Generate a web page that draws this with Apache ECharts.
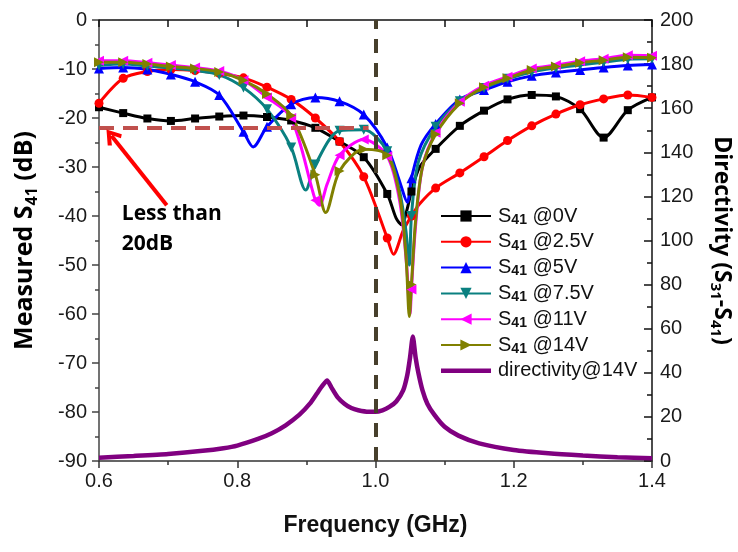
<!DOCTYPE html>
<html>
<head>
<meta charset="utf-8">
<script src="https://cdn.jsdelivr.net/npm/echarts@6/dist/echarts.min.js"></script>
<style>
  html, body { margin: 0; padding: 0; background: #fff; }
  #chart { width: 738px; height: 552px; }
</style>
</head>
<body>
<div id="chart"></div>
<script>
// Frequencies (GHz) where the measurement markers sit
const markFreq = [0.600, 0.635, 0.670, 0.704, 0.739, 0.774, 0.809, 0.843, 0.878, 0.913, 0.948, 0.983,
                  1.017, 1.052, 1.087, 1.122, 1.157, 1.191, 1.226, 1.261, 1.296, 1.330, 1.365, 1.400];

// Measured S41 (dB) vs frequency (GHz) for each bias voltage
const s41_0V = [[0.600,-17.8],[0.635,-19.0],[0.670,-20.1],[0.704,-20.6],[0.739,-20.1],[0.774,-19.7],[0.809,-19.5],
  [0.843,-19.8],[0.878,-20.5],[0.913,-22.0],[0.948,-24.8],[0.983,-28.0],[1.017,-35.5],[1.030,-40.5],[1.038,-41.8],
  [1.045,-39.0],[1.052,-35.0],[1.064,-30.0],[1.087,-26.3],[1.122,-21.6],[1.157,-18.5],[1.191,-16.2],[1.226,-15.3],
  [1.261,-15.6],[1.296,-18.2],[1.330,-24.0],[1.365,-18.4],[1.400,-15.8]];
const s41_2p5V = [[0.600,-17.0],[0.635,-11.9],[0.670,-10.5],[0.704,-10.1],[0.739,-10.3],[0.774,-10.9],[0.809,-11.8],
  [0.843,-13.7],[0.878,-16.2],[0.913,-20.0],[0.948,-24.8],[0.983,-32.0],[1.017,-44.5],[1.026,-47.8],[1.040,-43.0],
  [1.052,-40.0],[1.064,-37.5],[1.087,-34.3],[1.122,-31.2],[1.157,-27.9],[1.191,-24.6],[1.226,-21.6],[1.261,-19.2],
  [1.296,-17.3],[1.330,-16.1],[1.365,-15.3],[1.400,-15.8]];
const s41_5V = [[0.600,-9.9],[0.635,-9.7],[0.670,-10.1],[0.704,-11.1],[0.739,-12.6],[0.774,-15.3],[0.809,-22.8],
  [0.823,-25.9],[0.843,-21.8],[0.878,-17.2],[0.913,-15.8],[0.948,-16.6],[0.983,-19.3],[1.017,-26.0],[1.035,-33.0],
  [1.046,-37.2],[1.052,-32.3],[1.066,-25.5],[1.087,-21.2],[1.122,-16.2],[1.157,-14.3],[1.191,-12.6],[1.226,-11.4],
  [1.261,-10.7],[1.296,-10.2],[1.330,-9.7],[1.365,-9.3],[1.400,-9.1]];
const s41_7p5V = [[0.600,-9.3],[0.635,-9.0],[0.670,-9.4],[0.704,-9.8],[0.739,-10.3],[0.774,-11.2],[0.809,-13.8],
  [0.843,-18.2],[0.878,-26.0],[0.899,-34.7],[0.913,-29.5],[0.948,-22.6],[0.983,-22.4],[1.017,-26.8],[1.035,-35.0],
  [1.044,-43.0],[1.049,-50.0],[1.052,-40.0],[1.062,-29.0],[1.087,-21.8],[1.122,-16.6],[1.157,-13.9],[1.191,-12.0],
  [1.226,-10.6],[1.261,-9.8],[1.296,-9.2],[1.330,-8.6],[1.365,-8.0],[1.400,-7.9]];
const s41_11V = [[0.600,-8.3],[0.635,-8.3],[0.670,-8.7],[0.704,-9.2],[0.739,-9.7],[0.774,-10.4],[0.809,-12.3],
  [0.843,-15.8],[0.878,-20.0],[0.913,-36.8],[0.919,-37.8],[0.930,-33.5],[0.948,-27.6],[0.983,-24.4],[1.017,-27.8],
  [1.035,-37.0],[1.045,-50.0],[1.050,-60.0],[1.052,-55.0],[1.058,-42.0],[1.068,-30.0],[1.087,-23.0],[1.122,-16.7],
  [1.157,-13.4],[1.191,-11.6],[1.226,-9.9],[1.261,-9.2],[1.296,-8.4],[1.330,-7.9],[1.365,-7.2],[1.400,-7.3]];
const s41_14V = [[0.600,-8.6],[0.635,-8.6],[0.670,-9.0],[0.704,-9.5],[0.739,-9.9],[0.774,-10.6],[0.809,-12.3],
  [0.843,-15.1],[0.878,-19.5],[0.913,-31.6],[0.928,-39.3],[0.948,-30.8],[0.983,-26.4],[1.017,-27.6],[1.035,-36.0],
  [1.044,-48.0],[1.049,-60.5],[1.052,-54.0],[1.058,-41.0],[1.068,-30.0],[1.087,-23.3],[1.122,-17.0],[1.157,-13.7],
  [1.191,-11.9],[1.226,-10.2],[1.261,-9.5],[1.296,-8.7],[1.330,-8.2],[1.365,-7.6],[1.400,-7.7]];

// Directivity (S31-S41) at 14 V, right axis
const directivity14V = [[0.600,1.5],[0.650,2.3],[0.700,3.2],[0.750,4.6],[0.780,5.8],[0.800,7.0],[0.830,10.0],
  [0.850,12.6],[0.870,16.2],[0.890,21.0],[0.905,26.0],[0.915,30.5],[0.924,34.5],[0.930,36.5],[0.936,33.5],
  [0.945,29.0],[0.955,26.0],[0.965,24.0],[0.975,23.0],[0.990,22.3],[1.000,22.3],[1.010,23.0],[1.020,24.5],
  [1.030,27.0],[1.040,32.0],[1.046,39.0],[1.050,47.0],[1.054,56.5],[1.058,47.0],[1.062,40.0],[1.068,32.0],
  [1.075,26.0],[1.085,21.0],[1.100,15.5],[1.120,11.5],[1.150,8.0],[1.200,5.0],[1.250,3.5],[1.300,2.5],
  [1.350,1.7],[1.400,1.2]];

// Reference lines and annotation
const targetLevel = -22;          // dB, dashed limit line
const targetSpan = [0.6, 0.99];   // GHz extent of the limit line
const centerFreq = 1.0;           // GHz, dashed vertical marker
const arrowFrom = [0.698, -37.8];
const arrowTo = [0.618, -23.6];
const noteAt = [0.633, -42.7];
const noteText = 'Less than\n20dB';

// Axis ranges
const xRange = [0.6, 1.4];
const yLeftRange = [-90, 0];
const yRightRange = [0, 200];

const TICK_FONT = 'Liberation Sans, Arial, sans-serif';
const TITLE_FONT = 'Open Sans, sans-serif';

function withMarkers(points) {
  return points.map(p => markFreq.some(m => Math.abs(m - p[0]) < 1e-6)
    ? { value: p }
    : { value: p, symbol: 'none' });
}

function s41Series(name, points, color, symbol, rotate, size) {
  return {
    name: name,
    type: 'line',
    xAxisIndex: 0,
    yAxisIndex: 0,
    data: withMarkers(points),
    smooth: 0.3,
    showAllSymbol: true,
    symbol: symbol,
    symbolRotate: rotate,
    symbolSize: size,
    lineStyle: { color: color, width: 3 },
    itemStyle: { color: color },
    emphasis: { disabled: true }
  };
}

const chart = echarts.init(document.getElementById('chart'), null, { renderer: 'canvas' });

const series = [
  s41Series('S41 @0V', s41_0V, '#000000', 'rect', 0, 8),
  s41Series('S41 @2.5V', s41_2p5V, '#ff0000', 'circle', 0, 9),
  s41Series('S41 @5V', s41_5V, '#0000ff', 'triangle', 0, 10),
  s41Series('S41 @7.5V', s41_7p5V, '#0a8080', 'triangle', 180, 10),
  s41Series('S41 @11V', s41_11V, '#ff00ff', 'triangle', 90, 10),
  s41Series('S41 @14V', s41_14V, '#808000', 'triangle', -90, 10),
  {
    name: 'directivity@14V',
    type: 'line',
    xAxisIndex: 0,
    yAxisIndex: 1,
    data: directivity14V,
    smooth: 0.2,
    symbol: 'none',
    lineStyle: { color: '#800080', width: 4.5 },
    itemStyle: { color: '#800080' },
    emphasis: { disabled: true }
  }
];

// Limit line, center-frequency line, arrow and note ride on the first series
series[0].markLine = {
  silent: true,
  animation: false,
  symbol: ['none', 'none'],
  label: { show: false },
  data: [
    [
      { coord: [centerFreq, yLeftRange[0]], lineStyle: { color: '#473f2c', width: 4, type: [14, 10] } },
      { coord: [centerFreq, yLeftRange[1]] }
    ],
    [
      { coord: [targetSpan[0], targetLevel], lineStyle: { color: '#c0504d', width: 4, type: [15, 9] } },
      { coord: [targetSpan[1], targetLevel] }
    ],
    [
      { coord: arrowFrom, lineStyle: { color: '#ff0000', width: 4, type: 'solid' } },
      { coord: arrowTo, symbol: 'path://M5,0 L10,8 L8.2,9.6 L5,4.2 L1.8,9.6 L0,8 Z', symbolSize: [18, 16] }
    ]
  ]
};
series[0].markPoint = {
  silent: true,
  animation: false,
  symbol: 'circle',
  symbolSize: 0,
  data: [{
    coord: noteAt,
    label: {
      show: true,
      position: 'right',
      distance: 0,
      formatter: noteText,
      fontFamily: 'Open Sans, sans-serif',
      fontWeight: 'bold',
      fontSize: 21,
      lineHeight: 30,
      color: '#000',
      align: 'left'
    }
  }]
};

const subRich = {
  s: { fontFamily: TICK_FONT, fontSize: 20, color: '#111', lineHeight: 22 },
  sub: { fontFamily: TICK_FONT, fontSize: 14, fontWeight: 'bold', color: '#111', verticalAlign: 'bottom', lineHeight: 16 }
};

const legendData = series.map(s => s.symbol === 'none'
  ? { name: s.name, icon: 'path://M0,0H50V4.5H0Z' }
  : { name: s.name });

const option = {
  animation: false,
  backgroundColor: '#ffffff',
  grid: { left: 99, right: 86, top: 20, bottom: 91, containLabel: false, outerBoundsMode: 'none' },
  legend: {
    orient: 'vertical',
    left: 435,
    top: 201,
    itemWidth: 50,
    itemHeight: 14,
    itemGap: 4.8,
    selectedMode: false,
    symbolKeepAspect: true,
    data: legendData,
    textStyle: { fontFamily: TICK_FONT, fontSize: 20, color: '#111', rich: subRich, padding: [0, 0, 0, 2] },
    formatter: name => name.startsWith('S41')
      ? '{s|S}{sub|41}{s|' + name.slice(3) + '}'
      : '{s|' + name + '}'
  },
  xAxis: [
    {
      type: 'value',
      min: xRange[0], max: xRange[1], interval: 0.2,
      position: 'bottom',
      name: 'Frequency (GHz)',
      nameLocation: 'middle',
      nameGap: 53,
      nameTextStyle: { fontFamily: TICK_FONT, fontWeight: 'bold', fontSize: 23, color: '#111' },
      axisLine: { show: true, onZero: false, lineStyle: { color: '#333', width: 1.5 } },
      axisTick: { show: true, inside: false, length: 7, lineStyle: { color: '#333', width: 1.5 } },
      minorTick: { show: true, splitNumber: 2, length: 4, lineStyle: { color: '#333', width: 1.5 } },
      axisLabel: { fontFamily: TICK_FONT, fontSize: 20, color: '#1a1a1a', margin: 10, formatter: v => v.toFixed(1) },
      splitLine: { show: false },
      minorSplitLine: { show: false }
    },
    {
      type: 'value',
      min: xRange[0], max: xRange[1], interval: 0.1,
      position: 'top',
      axisLine: { show: true, onZero: false, lineStyle: { color: '#111', width: 1.5 } },
      axisTick: { show: true, inside: true, length: 7, lineStyle: { color: '#111', width: 1.5 } },
      axisLabel: { show: false },
      splitLine: { show: false }
    }
  ],
  yAxis: [
    {
      type: 'value',
      min: yLeftRange[0], max: yLeftRange[1], interval: 10,
      position: 'left',
      name: '{b|Measured S}{bs|41}{b| (dB)}',
      nameLocation: 'middle',
      nameRotate: 90,
      nameGap: 59,
      nameTextStyle: {
        rich: {
          b: { fontFamily: TITLE_FONT, fontWeight: 'bold', fontSize: 25, color: '#000', lineHeight: 30 },
          bs: { fontFamily: TITLE_FONT, fontWeight: 'bold', fontSize: 16, color: '#000', verticalAlign: 'bottom', lineHeight: 22 }
        }
      },
      axisLine: { show: true, onZero: false, lineStyle: { color: '#444', width: 1.5 } },
      axisTick: { show: true, inside: false, length: 7, lineStyle: { color: '#444', width: 1.5 } },
      minorTick: { show: true, splitNumber: 2, length: 4, lineStyle: { color: '#444', width: 1.5 } },
      axisLabel: { fontFamily: TICK_FONT, fontSize: 20, color: '#1a1a1a', margin: 12 },
      splitLine: { show: false },
      minorSplitLine: { show: false }
    },
    {
      type: 'value',
      min: yRightRange[0], max: yRightRange[1], interval: 20,
      position: 'right',
      name: '{b|Directivity (S}{bs|31}{b|-S}{bs|41}{b|)}',
      nameLocation: 'middle',
      nameRotate: -90,
      nameGap: 56,
      nameTextStyle: {
        rich: {
          b: { fontFamily: TITLE_FONT, fontWeight: 'bold', fontSize: 23, color: '#000', lineHeight: 28 },
          bs: { fontFamily: TITLE_FONT, fontWeight: 'bold', fontSize: 15, color: '#000', verticalAlign: 'bottom', lineHeight: 20 }
        }
      },
      axisLine: { show: true, onZero: false, lineStyle: { color: '#111', width: 1.5 } },
      axisTick: { show: true, inside: true, length: 8, lineStyle: { color: '#111', width: 1.5 } },
      minorTick: { show: true, splitNumber: 2, length: 5, lineStyle: { color: '#111', width: 1.5 } },
      axisLabel: { fontFamily: TICK_FONT, fontSize: 20, color: '#1a1a1a', margin: 8 },
      splitLine: { show: false },
      minorSplitLine: { show: false }
    }
  ],
  series: series
};

chart.setOption(option);
</script>
</body>
</html>
